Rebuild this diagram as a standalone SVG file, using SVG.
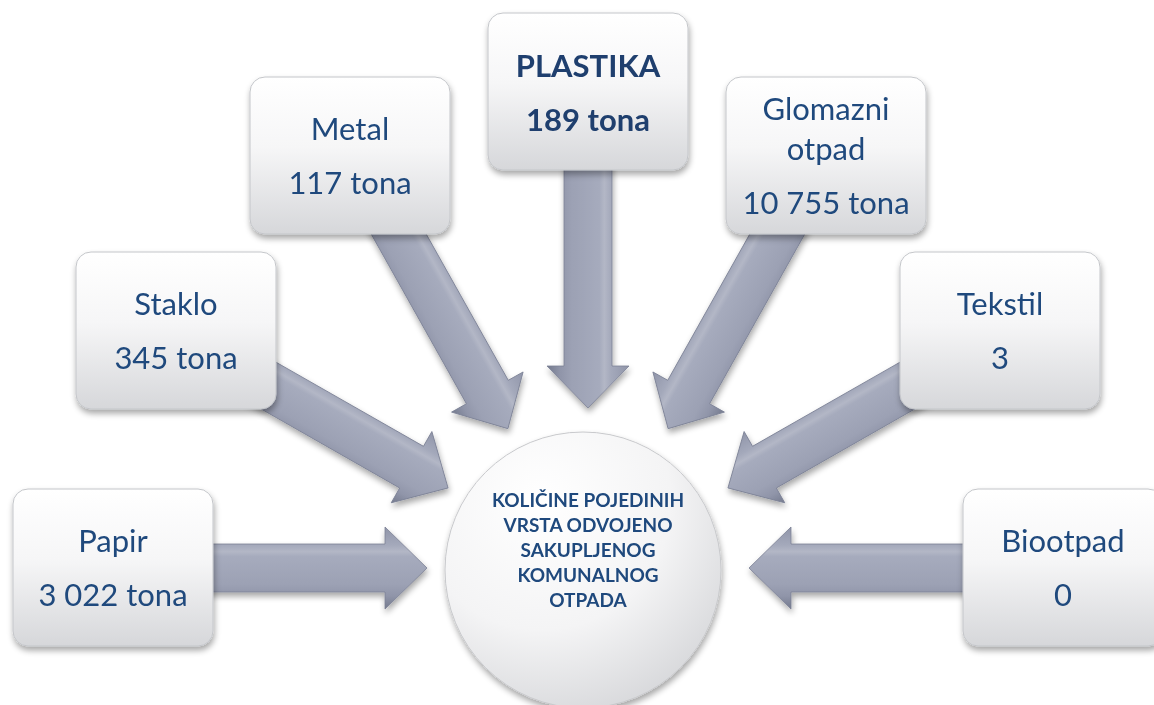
<svg xmlns="http://www.w3.org/2000/svg" width="1154" height="705" viewBox="0 0 1154 705">
<defs>
<style>
.box{fill:url(#boxGrad);stroke:#c4c6ca;stroke-width:1}
.t{font-family:Lato,"Open Sans","Liberation Sans",sans-serif;font-size:31px;fill:#1F497D;text-anchor:middle}
.b{font-weight:bold;fill:#1F3F6E}
.c{font-family:Lato,"Open Sans","Liberation Sans",sans-serif;font-size:19px;font-weight:bold;fill:#1F497D;text-anchor:middle}
.arr{fill:url(#arrGrad);stroke:#7b8094;stroke-width:0.8}
</style>
<linearGradient id="boxGrad" x1="0" y1="0" x2="0" y2="1">
<stop offset="0" stop-color="#ffffff"/>
<stop offset="0.45" stop-color="#f6f6f7"/>
<stop offset="1" stop-color="#d6d7da"/>
</linearGradient>
<radialGradient id="circGrad" cx="0.35" cy="0.25" r="0.85">
<stop offset="0" stop-color="#ffffff"/>
<stop offset="0.55" stop-color="#f4f4f5"/>
<stop offset="1" stop-color="#d4d5d8"/>
</radialGradient>
<linearGradient id="arrGrad" gradientUnits="userSpaceOnUse" x1="0" y1="-41" x2="0" y2="41">
<stop offset="0" stop-color="#9095a9"/>
<stop offset="0.22" stop-color="#a4a9bb"/>
<stop offset="0.3" stop-color="#b3b7c6"/>
<stop offset="0.36" stop-color="#a6abbd"/>
<stop offset="0.7" stop-color="#9ca1b4"/>
<stop offset="0.84" stop-color="#9095a9"/>
<stop offset="1" stop-color="#747a8e"/>
</linearGradient>
<filter id="shadow" x="-20%" y="-20%" width="140%" height="150%">
<feGaussianBlur in="SourceAlpha" stdDeviation="3"/>
<feOffset dx="1" dy="4" result="o"/>
<feComponentTransfer><feFuncA type="linear" slope="0.35"/></feComponentTransfer>
<feMerge><feMergeNode/><feMergeNode in="SourceGraphic"/></feMerge>
</filter>
</defs>
<rect width="1154" height="705" fill="#ffffff"/>

<g id="connectors" filter="url(#shadow)">
<polygon class="arr" transform="translate(190,568)" points="0,-24 195,-24 195,-41 237,0 195,41 195,24 0,24"/>
<polygon class="arr" transform="translate(985,568) scale(-1,1)" points="0,-24 194,-24 194,-41 236,0 194,41 194,24 0,24"/>
<polygon class="arr" transform="translate(588,150) rotate(90)" points="0,-24 216,-24 216,-41 258,0 216,41 216,24 0,24"/>
<polygon class="arr" transform="translate(388,215) rotate(60.7)" points="0,-24 203,-24 203,-41 245,0 203,41 203,24 0,24"/>
<polygon class="arr" transform="translate(788,215) scale(-1,1) rotate(60.7)" points="0,-24 203,-24 203,-41 245,0 203,41 203,24 0,24"/>
<polygon class="arr" transform="translate(250,375) rotate(29.7)" points="0,-24 186,-24 186,-41 228,0 186,41 186,24 0,24"/>
<polygon class="arr" transform="translate(926,375) scale(-1,1) rotate(29.7)" points="0,-24 186,-24 186,-41 228,0 186,41 186,24 0,24"/>
</g>

<g id="node-papir">
<rect class="box" x="13" y="489" width="200" height="157" rx="15" filter="url(#shadow)"/>
<text class="t" x="113" y="552">Papir</text>
<text class="t" x="113" y="606">3 022 tona</text>
</g>
<g id="node-staklo">
<rect class="box" x="76" y="252" width="200" height="157" rx="15" filter="url(#shadow)"/>
<text class="t" x="176" y="315">Staklo</text>
<text class="t" x="176" y="369">345 tona</text>
</g>
<g id="node-metal">
<rect class="box" x="250" y="77" width="200" height="157" rx="15" filter="url(#shadow)"/>
<text class="t" x="350" y="140">Metal</text>
<text class="t" x="350" y="194">117 tona</text>
</g>
<g id="node-plastika">
<rect class="box" x="488" y="13" width="200" height="157" rx="15" filter="url(#shadow)"/>
<text class="t b" x="588" y="77">PLASTIKA</text>
<text class="t b" x="588" y="131">189 tona</text>
</g>
<g id="node-glomazni">
<rect class="box" x="726" y="77" width="200" height="157" rx="15" filter="url(#shadow)"/>
<text class="t" x="826" y="120">Glomazni</text>
<text class="t" x="826" y="160">otpad</text>
<text class="t" x="826" y="214">10 755 tona</text>
</g>
<g id="node-tekstil">
<rect class="box" x="900" y="252" width="200" height="157" rx="15" filter="url(#shadow)"/>
<text class="t" x="1000" y="315">Tekstil</text>
<text class="t" x="1000" y="369">3</text>
</g>
<g id="node-biootpad">
<rect class="box" x="963" y="489" width="200" height="157" rx="15" filter="url(#shadow)"/>
<text class="t" x="1063" y="552">Biootpad</text>
<text class="t" x="1063" y="606">0</text>
</g>
<g id="node-center">
<circle cx="583" cy="570" r="138" fill="url(#circGrad)" stroke="#c8c9cc" stroke-width="1" filter="url(#shadow)"/>
<text class="c" x="588" y="507">KOLIČINE POJEDINIH</text>
<text class="c" x="588" y="532">VRSTA ODVOJENO</text>
<text class="c" x="588" y="557">SAKUPLJENOG</text>
<text class="c" x="588" y="582">KOMUNALNOG</text>
<text class="c" x="588" y="607">OTPADA</text>
</g>
</svg>
